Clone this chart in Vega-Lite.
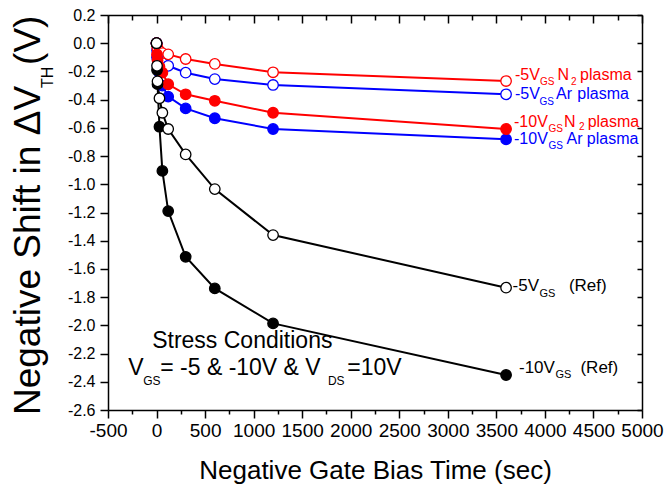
{
"$schema": "https://vega.github.io/schema/vega-lite/v6.json",
"width": 534, "height": 395,
"autosize": "none",
"padding": {"left": 108, "top": 15, "right": 24, "bottom": 82},
"background": "white",
"config": {"font": "Liberation Sans", "view": {"stroke": null},
  "axis": {"domainColor": "black", "tickColor": "black", "labelColor": "black", "titleColor": "black", "grid": false, "domainWidth": 1.5, "tickWidth": 1.5}},
"datasets": {
"pts": [
{"t":0,"v":0,"s":"b5"},{"t":5,"v":-0.05,"s":"b5"},{"t":10,"v":-0.08,"s":"b5"},{"t":30,"v":-0.11,"s":"b5"},{"t":60,"v":-0.14,"s":"b5"},{"t":120,"v":-0.16,"s":"b5"},{"t":300,"v":-0.209,"s":"b5"},{"t":600,"v":-0.254,"s":"b5"},{"t":1200,"v":-0.296,"s":"b5"},{"t":3600,"v":-0.362,"s":"b5"},
{"t":0,"v":0,"s":"r5"},{"t":5,"v":-0.02,"s":"r5"},{"t":10,"v":-0.04,"s":"r5"},{"t":30,"v":-0.055,"s":"r5"},{"t":60,"v":-0.07,"s":"r5"},{"t":120,"v":-0.079,"s":"r5"},{"t":300,"v":-0.112,"s":"r5"},{"t":600,"v":-0.147,"s":"r5"},{"t":1200,"v":-0.206,"s":"r5"},{"t":3600,"v":-0.268,"s":"r5"},
{"t":0,"v":0,"s":"b10"},{"t":5,"v":-0.1,"s":"b10"},{"t":10,"v":-0.16,"s":"b10"},{"t":30,"v":-0.21,"s":"b10"},{"t":60,"v":-0.3,"s":"b10"},{"t":120,"v":-0.379,"s":"b10"},{"t":300,"v":-0.462,"s":"b10"},{"t":600,"v":-0.532,"s":"b10"},{"t":1200,"v":-0.608,"s":"b10"},{"t":3600,"v":-0.681,"s":"b10"},
{"t":0,"v":0,"s":"r10"},{"t":5,"v":-0.08,"s":"r10"},{"t":10,"v":-0.12,"s":"r10"},{"t":30,"v":-0.167,"s":"r10"},{"t":60,"v":-0.209,"s":"r10"},{"t":120,"v":-0.291,"s":"r10"},{"t":300,"v":-0.362,"s":"r10"},{"t":600,"v":-0.408,"s":"r10"},{"t":1200,"v":-0.493,"s":"r10"},{"t":3600,"v":-0.608,"s":"r10"},
{"t":0,"v":0,"s":"k10"},{"t":5,"v":-0.19,"s":"k10"},{"t":10,"v":-0.29,"s":"k10"},{"t":30,"v":-0.592,"s":"k10"},{"t":60,"v":-0.905,"s":"k10"},{"t":120,"v":-1.19,"s":"k10"},{"t":300,"v":-1.514,"s":"k10"},{"t":600,"v":-1.738,"s":"k10"},{"t":1200,"v":-1.986,"s":"k10"},{"t":3600,"v":-2.352,"s":"k10"},
{"t":0,"v":0,"s":"k5"},{"t":5,"v":-0.16,"s":"k5"},{"t":10,"v":-0.27,"s":"k5"},{"t":30,"v":-0.39,"s":"k5"},{"t":60,"v":-0.493,"s":"k5"},{"t":120,"v":-0.608,"s":"k5"},{"t":300,"v":-0.788,"s":"k5"},{"t":600,"v":-1.034,"s":"k5"},{"t":1200,"v":-1.36,"s":"k5"},{"t":3600,"v":-1.733,"s":"k5"}
],
"ann": [
{"x":3692,"y":-0.261,"text":"-5V","kind":"lab","s":"r5"},
{"x":4129,"y":-0.261,"text":"N","kind":"lab","s":"r5"},
{"x":4362,"y":-0.261,"text":"plasma","kind":"lab","s":"r5"},
{"x":3692,"y":-0.395,"text":"-5V","kind":"lab","s":"b5"},
{"x":4114,"y":-0.395,"text":"Ar","kind":"lab","s":"b5"},
{"x":4334,"y":-0.395,"text":"plasma","kind":"lab","s":"b5"},
{"x":3682,"y":-0.596,"text":"-10V","kind":"lab","s":"r5"},
{"x":4197,"y":-0.596,"text":"N","kind":"lab","s":"r5"},
{"x":4440,"y":-0.596,"text":"plasma","kind":"lab","s":"r5"},
{"x":3682,"y":-0.714,"text":"-10V","kind":"lab","s":"b5"},
{"x":4222,"y":-0.714,"text":"Ar","kind":"lab","s":"b5"},
{"x":4432,"y":-0.714,"text":"plasma","kind":"lab","s":"b5"},
{"x":3949,"y":-0.296,"text":"GS","kind":"labsub","s":"r5"},
{"x":4269,"y":-0.296,"text":"2","kind":"labsub","s":"r5"},
{"x":3944,"y":-0.4415,"text":"GS","kind":"labsub","s":"b5"},
{"x":4037,"y":-0.629,"text":"GS","kind":"labsub","s":"r5"},
{"x":4351,"y":-0.618,"text":"2","kind":"labsub","s":"r5"},
{"x":4037,"y":-0.753,"text":"GS","kind":"labsub","s":"b5"},
{"x":3667,"y":-1.7565,"text":"-5V","kind":"ref"},
{"x":4247,"y":-1.7565,"text":"(Ref)","kind":"ref"},
{"x":3733,"y":-2.336,"text":"-10V","kind":"ref"},
{"x":4366,"y":-2.336,"text":"(Ref)","kind":"ref"},
{"x":3944,"y":-1.799,"text":"GS","kind":"refsub"},
{"x":4108,"y":-2.37,"text":"GS","kind":"refsub"},
{"x":-45,"y":-2.163,"text":"Stress Conditions","kind":"st"},
{"x":-291,"y":-2.352,"text":"V","kind":"st"},
{"x":38,"y":-2.352,"text":"= -5 & -10V & V","kind":"st"},
{"x":1965,"y":-2.352,"text":"=10V","kind":"st"},
{"x":-137,"y":-2.425,"text":"GS","kind":"stsub"},
{"x":1765,"y":-2.425,"text":"DS","kind":"stsub"},
{"x":-1196,"y":-2.6355,"text":"Negative Shift in ΔV","kind":"yt"},
{"x":-1196,"y":-0.154,"text":"(V)","kind":"yt"},
{"x":-1062,"y":-0.3175,"text":"TH","kind":"ytsub"}
]
},
"resolve": {"axis": {"x": "independent", "y": "independent"}},
"layer": [
{
 "data": {"name": "pts"},
 "mark": {"type": "line", "strokeWidth": 2},
 "encoding": {
  "x": {"field": "t", "type": "quantitative", "scale": {"domain": [-500, 5000], "nice": false, "zero": false},
    "axis": {"orient": "bottom", "values": [-500,0,500,1000,1500,2000,2500,3000,3500,4000,4500,5000], "tickSize": 8, "labelFontSize": 19, "labelPadding": 3, "labelOverlap": false, "labelFlush": false,
      "labelExpr": "datum.value < 0 ? '-' + format(-datum.value, 'd') : format(datum.value, 'd')",
      "title": "Negative Gate Bias Time (sec)", "titleFontSize": 26, "titleFontWeight": "normal", "titlePadding": 17}},
  "y": {"field": "v", "type": "quantitative", "scale": {"domain": [-2.6, 0.2], "nice": false, "zero": false},
    "axis": {"orient": "left", "values": [-2.6,-2.4,-2.2,-2,-1.8,-1.6,-1.4,-1.2,-1,-0.8,-0.6,-0.4,-0.2,0,0.2], "tickSize": 8, "labelFontSize": 16, "labelPadding": 5, "labelOverlap": false, "labelFlush": false,
      "labelExpr": "datum.value < 0 ? '-' + format(-datum.value, '.1f') : format(datum.value, '.1f')", "title": null}},
  "color": {"field": "s", "type": "nominal", "scale": {"domain": ["b5","r5","b10","r10","k10","k5"], "range": ["#0000ff","#ff0000","#0000ff","#ff0000","#000000","#000000"]}, "legend": null}
 }
},
{
 "data": {"name": "pts"},
 "mark": {"type": "point", "shape": "circle", "size": 110, "strokeWidth": 1.3, "opacity": 1, "filled": false},
 "encoding": {
  "x": {"field": "t", "type": "quantitative", "scale": {"domain": [-500, 5000], "nice": false, "zero": false},
    "axis": {"orient": "bottom", "values": [-250,250,750,1250,1750,2250,2750,3250,3750,4250,4750], "tickSize": 4, "labels": false, "domain": false, "title": null}},
  "y": {"field": "v", "type": "quantitative", "scale": {"domain": [-2.6, 0.2], "nice": false, "zero": false},
    "axis": {"orient": "right", "values": [-2.6,-2.4,-2.2,-2,-1.8,-1.6,-1.4,-1.2,-1,-0.8,-0.6,-0.4,-0.2,0,0.2], "tickSize": -5, "labels": false, "domain": true, "title": null}},
  "stroke": {"field": "s", "type": "nominal", "scale": {"domain": ["b5","r5","b10","r10","k10","k5"], "range": ["#0000ff","#ff0000","#0000ff","#ff0000","#000000","#000000"]}, "legend": null},
  "fill": {"field": "s", "type": "nominal", "scale": {"domain": ["b5","r5","b10","r10","k10","k5"], "range": ["#ffffff","#ffffff","#0000ff","#ff0000","#000000","#ffffff"]}, "legend": null}
 }
},
{
 "data": {"name": "ann"},
 "transform": [{"filter": "datum.kind === 'lab'"}],
 "mark": {"type": "text", "fontSize": 16, "align": "left", "baseline": "alphabetic"},
 "encoding": {
  "x": {"field": "x", "type": "quantitative", "scale": {"domain": [-500, 5000], "nice": false, "zero": false},
    "axis": {"orient": "top", "values": [-500,0,500,1000,1500,2000,2500,3000,3500,4000,4500,5000], "tickSize": -8, "labels": false, "domain": true, "title": null}},
  "y": {"field": "y", "type": "quantitative", "scale": {"domain": [-2.6, 0.2], "nice": false, "zero": false}, "axis": null},
  "text": {"field": "text"},
  "color": {"field": "s", "type": "nominal", "scale": {"domain": ["b5","r5","b10","r10","k10","k5"], "range": ["#0000ff","#ff0000","#0000ff","#ff0000","#000000","#000000"]}, "legend": null}
 }
},
{
 "data": {"name": "ann"},
 "transform": [{"filter": "datum.kind === 'labsub'"}],
 "mark": {"type": "text", "fontSize": 10, "align": "left", "baseline": "alphabetic"},
 "encoding": {
  "x": {"field": "x", "type": "quantitative", "scale": {"domain": [-500, 5000], "nice": false, "zero": false},
    "axis": {"orient": "top", "values": [-250,250,750,1250,1750,2250,2750,3250,3750,4250,4750], "tickSize": -5, "labels": false, "domain": false, "title": null}},
  "y": {"field": "y", "type": "quantitative", "scale": {"domain": [-2.6, 0.2], "nice": false, "zero": false}, "axis": null},
  "text": {"field": "text"},
  "color": {"field": "s", "type": "nominal", "scale": {"domain": ["b5","r5","b10","r10","k10","k5"], "range": ["#0000ff","#ff0000","#0000ff","#ff0000","#000000","#000000"]}, "legend": null}
 }
},
{
 "data": {"name": "ann"},
 "transform": [{"filter": "datum.kind === 'ref'"}],
 "mark": {"type": "text", "fontSize": 17, "align": "left", "baseline": "alphabetic", "color": "black"},
 "encoding": {
  "x": {"field": "x", "type": "quantitative", "scale": {"domain": [-500, 5000], "nice": false, "zero": false}, "axis": null},
  "y": {"field": "y", "type": "quantitative", "scale": {"domain": [-2.6, 0.2], "nice": false, "zero": false}, "axis": null},
  "text": {"field": "text"}
 }
},
{
 "data": {"name": "ann"},
 "transform": [{"filter": "datum.kind === 'refsub'"}],
 "mark": {"type": "text", "fontSize": 11, "align": "left", "baseline": "alphabetic", "color": "black"},
 "encoding": {
  "x": {"field": "x", "type": "quantitative", "scale": {"domain": [-500, 5000], "nice": false, "zero": false}, "axis": null},
  "y": {"field": "y", "type": "quantitative", "scale": {"domain": [-2.6, 0.2], "nice": false, "zero": false}, "axis": null},
  "text": {"field": "text"}
 }
},
{
 "data": {"name": "ann"},
 "transform": [{"filter": "datum.kind === 'st'"}],
 "mark": {"type": "text", "fontSize": 23, "align": "left", "baseline": "alphabetic", "color": "black"},
 "encoding": {
  "x": {"field": "x", "type": "quantitative", "scale": {"domain": [-500, 5000], "nice": false, "zero": false}, "axis": null},
  "y": {"field": "y", "type": "quantitative", "scale": {"domain": [-2.6, 0.2], "nice": false, "zero": false}, "axis": null},
  "text": {"field": "text"}
 }
},
{
 "data": {"name": "ann"},
 "transform": [{"filter": "datum.kind === 'stsub'"}],
 "mark": {"type": "text", "fontSize": 12, "align": "left", "baseline": "alphabetic", "color": "black"},
 "encoding": {
  "x": {"field": "x", "type": "quantitative", "scale": {"domain": [-500, 5000], "nice": false, "zero": false}, "axis": null},
  "y": {"field": "y", "type": "quantitative", "scale": {"domain": [-2.6, 0.2], "nice": false, "zero": false}, "axis": null},
  "text": {"field": "text"}
 }
},
{
 "data": {"name": "ann"},
 "transform": [{"filter": "datum.kind === 'yt'"}],
 "mark": {"type": "text", "fontSize": 37, "angle": 270, "align": "left", "baseline": "alphabetic", "color": "black"},
 "encoding": {
  "x": {"field": "x", "type": "quantitative", "scale": {"domain": [-500, 5000], "nice": false, "zero": false}, "axis": null},
  "y": {"field": "y", "type": "quantitative", "scale": {"domain": [-2.6, 0.2], "nice": false, "zero": false}, "axis": null},
  "text": {"field": "text"}
 }
},
{
 "data": {"name": "ann"},
 "transform": [{"filter": "datum.kind === 'ytsub'"}],
 "mark": {"type": "text", "fontSize": 16, "angle": 270, "align": "left", "baseline": "alphabetic", "color": "black"},
 "encoding": {
  "x": {"field": "x", "type": "quantitative", "scale": {"domain": [-500, 5000], "nice": false, "zero": false}, "axis": null},
  "y": {"field": "y", "type": "quantitative", "scale": {"domain": [-2.6, 0.2], "nice": false, "zero": false}, "axis": null},
  "text": {"field": "text"}
 }
}
]
}
